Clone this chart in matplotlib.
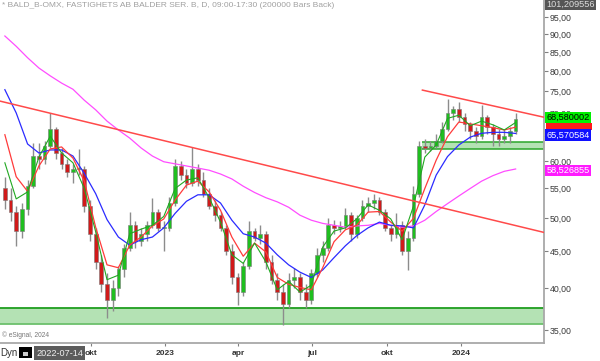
import pandas as pd
import matplotlib
matplotlib.use('Agg')
import matplotlib.pyplot as plt
from matplotlib.patches import Rectangle

plt.rcParams['font.family'] = ['Liberation Sans', 'DejaVu Sans']

# weekly candles (BALD B, jun 2022 - mar 2024)
weeks = pd.date_range('2022-06-17', periods=91, freq='7D')
opens = [55, 53, 51, 48, 51.5, 55.5, 61, 60.5, 63, 66.5,
         61.5, 59.5, 58, 58.5, 58.5, 52, 47.5, 43.5, 40.5, 38.5,
         40, 42.5, 45.5, 49, 46.5, 47.5, 49, 51, 48.5, 48.5,
         52.5, 59, 57.5, 56, 58.5, 56.5, 54, 52, 50.5, 48.5,
         45, 41.5, 39.5, 43, 48, 47, 47.5, 43.5, 41, 39.5,
         38, 41, 41.5, 39.5, 38.5, 42, 44.5, 45.5, 49, 48.5,
         48.8, 50.5, 47.5, 50, 52, 52.5, 53, 51, 48.5, 47.5,
         49, 45, 47, 54, 63, 62.5, 63, 64, 66.5, 70,
         71, 69, 67.5, 66, 65, 69, 67, 65.5, 64.5, 65,
         66]
highs = [57, 55, 52, 52.5, 56.5, 63.5, 63.5, 64, 70, 67,
         62.5, 60.5, 59.5, 62.3, 59, 53, 48.5, 44.5, 42, 41,
         43, 46, 51, 49.5, 48.5, 49.5, 53.3, 51.5, 49.5, 53.5,
         60.5, 60, 58.5, 62.7, 59.5, 58, 55, 53, 51, 49,
         46, 42, 43.5, 49.6, 48.5, 49, 48, 44.5, 42, 40.5,
         42, 42.6, 42, 40.5, 42.5, 45.5, 46.5, 50, 49.8, 49.5,
         51.7, 51, 50.5, 53, 53.5, 54, 53.5, 51.5, 49, 50.8,
         49.5, 48, 55.5, 64, 64.5, 64, 65.5, 68, 73.3, 71.5,
         72.5, 70, 68, 67, 71.8, 69.5, 67.5, 66.5, 66.5, 67,
         70]
lows = [51.5, 49.5, 45.7, 47, 50.5, 55, 58.5, 59.5, 62.5, 60.5,
        58.5, 57, 56, 57.5, 51, 46.5, 42.5, 39.5, 36.4, 37.2,
        39, 41.5, 45, 45.5, 45.8, 46.5, 48.5, 48, 45, 48,
        52, 56.5, 55, 55.5, 55.5, 53.5, 51.5, 49.5, 48, 44.5,
        40.5, 37.9, 39, 42.5, 46.5, 46, 42.5, 40.5, 38.5, 35.6,
        37.5, 40, 38.5, 37.5, 38, 41.5, 43.5, 45, 47.5, 47.8,
        48.3, 46.5, 47, 49.5, 51, 51.5, 50.5, 48, 46.5, 47,
        44.5, 42.4, 46.5, 53.5, 61.5, 62, 62.5, 63.5, 66, 68.5,
        68, 66, 64.5, 63.5, 64.5, 65.5, 63, 63, 63.5, 63.5,
        65.5]
closes = [53, 51, 48, 51.5, 55.5, 61, 60.5, 63, 66.5, 61.5,
          59.5, 58, 58.5, 58.5, 52, 47.5, 43.5, 40.5, 38.5, 40,
          42.5, 45.5, 49, 46.5, 47.5, 49, 51, 48.5, 48.5, 52.5,
          59, 57.5, 56, 58.5, 56.5, 54, 52, 50.5, 48.5, 45,
          41.5, 39.5, 43, 48, 47, 47.5, 43.5, 41, 39.5, 38,
          41, 41.5, 39.5, 38.5, 42, 44.5, 45.5, 49, 48.5, 48.8,
          50.5, 47.5, 50, 52, 52.5, 53, 51, 48.5, 47.5, 49,
          45, 47, 54, 63, 62.5, 63, 64, 66.5, 70, 71,
          69, 67.5, 66, 65, 69, 67, 65.5, 64.5, 65, 66,
          68.58]

# moving averages, read every second week
ma_dates = weeks[::2]
ma_green = [59.7, 53.2, 54.4, 60.8, 65.0, 61.6, 59.7, 55.0, 47.9, 41.1,
            41.7, 47.6, 48.3, 48.9, 50.3, 55.0, 56.5, 56.9, 53.4, 49.4,
            44.5, 43.3, 46.2, 43.5, 39.8, 40.9, 39.5, 40.4, 45.6, 48.0,
            48.5, 49.9, 52.2, 51.3, 49.9, 46.7, 52.0, 60.8, 63.2, 68.8,
            69.5, 67.2, 68.2, 67.4, 66.3, 67.9]
ma_red = [65.3, 57.1, 54.5, 59.1, 62.4, 62.8, 60.6, 56.3, 48.6, 43.1,
          42.7, 45.9, 47.1, 48.8, 49.9, 53.0, 55.6, 56.3, 54.4, 51.3,
          47.1, 44.3, 46.2, 44.9, 41.4, 40.5, 40.1, 39.8, 42.7, 46.4,
          48.2, 48.9, 51.0, 51.1, 49.4, 48.0, 50.0, 55.0, 60.2, 64.9,
          68.0, 67.6, 67.2, 66.8, 66.3, 66.9]
ma_blue = [75.4, 70.0, 63.4, 61.6, 62.2, 62.2, 61.0, 57.7, 54.1, 49.8,
           47.1, 45.9, 46.7, 47.1, 48.5, 50.8, 52.8, 53.9, 53.9, 52.5,
           49.7, 47.6, 47.1, 46.2, 44.5, 43.1, 42.1, 41.4, 42.4, 44.1,
           45.8, 47.3, 48.5, 49.4, 48.9, 48.8, 48.5, 52.2, 57.4, 60.9,
           63.2, 64.8, 65.6, 65.8, 65.8, 65.57]
ma_magenta = [89.5, 86.6, 83.5, 80.8, 78.8, 77.0, 75.5, 72.9, 70.7, 68.2,
              66.3, 64.6, 62.6, 61.0, 59.9, 59.5, 59.1, 58.7, 58.3, 57.6,
              56.7, 55.4, 54.3, 53.4, 52.7, 51.8, 50.5, 49.7, 49.2, 48.9,
              48.6, 48.8, 48.9, 49.2, 48.9, 48.6, 48.8, 49.7, 51.1, 52.4,
              53.7, 55.0, 56.3, 57.3, 58.1, 58.53]

# trend lines and support zones
trend1_dates = pd.to_datetime(['2022-06-11', '2024-04-12'])
trend1_prices = [72.7, 47.8]
trend2_dates = pd.to_datetime(['2023-11-14', '2024-04-12'])
trend2_prices = [75.3, 69.05]
zone_low = [35.7, 37.5]
zone_high = [62.3, 63.8]
zone_high_start = pd.Timestamp('2023-11-13')

x_start = pd.Timestamp('2022-06-11')
x_end = pd.Timestamp('2024-04-12')
xtick_dates = pd.to_datetime(['2022-10-01', '2023-01-01', '2023-04-01',
                              '2023-07-01', '2023-10-01', '2024-01-01'])
xtick_labels = ['okt', '2023', 'apr', 'jul', 'okt', '2024']
ytick_vals = [35, 40, 45, 50, 55, 60, 65, 70, 75, 80, 85, 90, 95]

fig = plt.figure(figsize=(6, 3.61), dpi=100)
ax = fig.add_axes([0, 18 / 361, 544 / 600, 343 / 361])
ax.set_yscale('log')

# zones
ax.axhspan(zone_low[0], zone_low[1], facecolor='#b4e2b4', edgecolor='none', zorder=1)
ax.axhline(zone_low[1], color='#1f9e1f', lw=1.3, zorder=1)
ax.axhline(zone_low[0], color='#6cc06c', lw=1.3, zorder=1)
ax.fill_between([zone_high_start, x_end], zone_high[0], zone_high[1],
                facecolor='#b4e2b4', edgecolor='none', zorder=1)
ax.hlines(zone_high, zone_high_start, x_end, color='#2aa52a', lw=1.1, zorder=1)

# candles
wick_c = '#8c8c8c'
ax.vlines(weeks, lows, highs, color=wick_c, lw=1.0, zorder=2)
body_bottom = [min(o, c) for o, c in zip(opens, closes)]
body_h = [max(abs(c - o), 0.15) for o, c in zip(opens, closes)]
body_col = ['#1fbf1f' if c >= o else '#d11a1a' for o, c in zip(opens, closes)]
ax.bar(weeks, body_h, bottom=body_bottom, width=4.6, color=body_col,
       edgecolor='#7a7a7a', linewidth=0.4, zorder=3)

# moving averages
ax.plot(ma_dates, ma_magenta, color='#ff4dff', lw=0.9, zorder=4)
ax.plot(ma_dates, ma_blue, color='#2b2bff', lw=0.9, zorder=4)
ax.plot(ma_dates, ma_red, color='#ff3b3b', lw=0.9, zorder=4)
ax.plot(ma_dates, ma_green, color='#21a821', lw=0.8, zorder=4)

# trend lines
ax.plot(trend1_dates, trend1_prices, color='#ff4a4a', lw=1.1, zorder=4)
ax.plot(trend2_dates, trend2_prices, color='#ff4a4a', lw=1.1, zorder=4)

ax.set_xlim(x_start, x_end)
ax.set_ylim(33.58, 100.4)
ax.minorticks_off()
ax.set_yticks(ytick_vals)
# 65,00 sits under the price boxes, so it is left blank like on the screen
ax.set_yticklabels(['' if v == 65 else '%d,00' % v for v in ytick_vals])
ax.yaxis.tick_right()
ax.set_xticks(xtick_dates)
ax.set_xticklabels(xtick_labels)
ax.tick_params(axis='y', length=3, width=0.8, color='#808080', labelsize=6.3,
               labelcolor='#3a3a3a', pad=1)
ax.tick_params(axis='x', length=2.5, width=0.8, color='#808080', labelsize=6,
               labelcolor='#333333', pad=2.5)
for lbl in ax.get_xticklabels():
    lbl.set_fontweight('bold')
for s in ['left', 'top']:
    ax.spines[s].set_visible(False)
for s in ['right', 'bottom']:
    ax.spines[s].set_color('#a8a8a8')
    ax.spines[s].set_linewidth(1.3)

# value boxes on the price scale
yt = ax.get_yaxis_transform()
box = dict(boxstyle='square,pad=0.12', ec='none')
# red MA box is hidden behind the others, only its edge shows
ax.add_patch(Rectangle((1.003, 66.2), 0.085, 1.6, transform=yt, facecolor='#ff1a1a',
                       edgecolor='none', clip_on=False, zorder=5))
ax.text(1.004, 1.0, '101,209556', transform=ax.transAxes, va='top', ha='left',
        fontsize=6.6, color='#dddddd', bbox=dict(box, fc='#555555'), clip_on=False, zorder=6)
ax.text(1.004, closes[-1] * 1.005, '68,580002', transform=yt, va='center', ha='left',
        fontsize=6.6, color='black', bbox=dict(box, fc='#00f000'), clip_on=False, zorder=6)
ax.text(1.004, ma_blue[-1] * 0.995, '65,570584', transform=yt, va='center', ha='left',
        fontsize=6.6, color='white', bbox=dict(box, fc='#1010ff'), clip_on=False, zorder=6)
ax.text(1.004, ma_magenta[-1] * 0.995, '58,526855', transform=yt, va='center', ha='left',
        fontsize=6.6, color='white', bbox=dict(box, fc='#ff1aff'), clip_on=False, zorder=6)

# header and footer texts
fig.text(0.004, 1 - 5.5 / 361, '* BALD_B-OMX, FASTIGHETS AB BALDER SER. B, D, 09:00-17:30 (200000 Bars Back)',
         fontsize=6, color='#a0a0a0', va='center', ha='left')
fig.text(0.003, 1 - 335.5 / 361, '\u00a9 eSignal, 2024', fontsize=4.8, color='#777777',
         va='center', ha='left')
fig.text(0.0, 1 - 352.5 / 361, 'Dyn', fontsize=7, color='#333333', va='center', ha='left')
fig.patches.append(Rectangle((19 / 600, 3 / 361), 13 / 600, 11 / 361, transform=fig.transFigure,
                             facecolor='black', edgecolor='none'))
fig.patches.append(Rectangle((23 / 600, 5 / 361), 5 / 600, 4 / 361, transform=fig.transFigure,
                             facecolor='#cccccc', edgecolor='none'))
fig.text(36.5 / 600, 1 - 353 / 361, '2022-07-14', fontsize=6.6, color='#f0f0f0',
         va='center', ha='left', bbox=dict(boxstyle='square,pad=0.22', fc='#5c5c5c', ec='none'))

fig.savefig('out.png', dpi=100)
